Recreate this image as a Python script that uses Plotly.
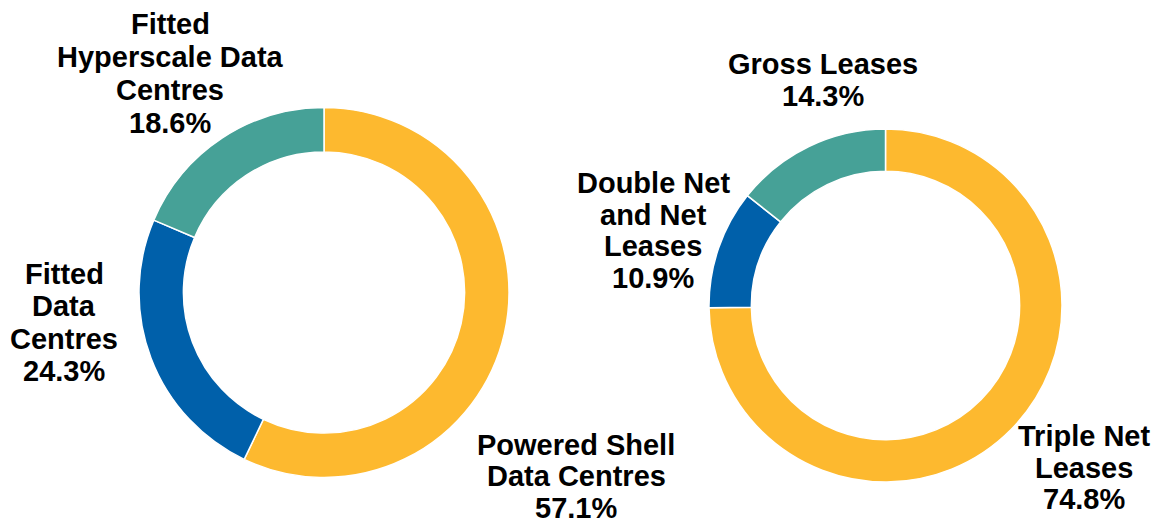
import plotly.graph_objects as go

# Left chart: by data centre type
left_labels = ["Powered Shell Data Centres", "Fitted Data Centres", "Fitted Hyperscale Data Centres"]
left_values = [57.1, 24.3, 18.6]
left_text = [["Powered Shell", "Data Centres", "57.1%"],
             ["Fitted", "Data", "Centres", "24.3%"],
             ["Fitted", "Hyperscale Data", "Centres", "18.6%"]]

# Right chart: by lease type
right_labels = ["Triple Net Leases", "Double Net and Net Leases", "Gross Leases"]
right_values = [74.8, 10.9, 14.3]
right_text = [["Triple Net", "Leases", "74.8%"],
              ["Double Net", "and Net", "Leases", "10.9%"],
              ["Gross Leases", "14.3%"]]

colors = ["#FDB92F", "#0060AA", "#46A197"]

W, H = 1158, 523

def dom(cx, cy, r):
    return dict(x=[(cx - r) / W, (cx + r) / W], y=[(H - cy - r) / H, (H - cy + r) / H])

fig = go.Figure()
fig.add_trace(go.Pie(labels=left_labels, values=left_values, hole=0.76, sort=False,
                     direction="clockwise", rotation=0, textinfo="none", hoverinfo="label+percent",
                     marker=dict(colors=colors, line=dict(color="white", width=1.5)),
                     domain=dom(324, 292.5, 185), showlegend=False))
fig.add_trace(go.Pie(labels=right_labels, values=right_values, hole=0.76, sort=False,
                     direction="clockwise", rotation=0, textinfo="none", hoverinfo="label+percent",
                     marker=dict(colors=colors, line=dict(color="white", width=1.5)),
                     domain=dom(885.5, 305.5, 176.5), showlegend=False))

# label block positions: (centre x, first-line y, line spacing) in pixels
left_pos = [(576, 444.5, 31.5), (64, 274, 32.3), (170, 23.5, 33.3)]
right_pos = [(1084, 436, 31.5), (653, 183, 31.7), (823, 64, 32)]

for lines, (x, y0, dy) in list(zip(left_text, left_pos)) + list(zip(right_text, right_pos)):
    for i, line in enumerate(lines):
        fig.add_annotation(text="<b>" + line + "</b>", x=x / W, y=(H - (y0 + i * dy)) / H,
                           xref="paper", yref="paper", xanchor="center", yanchor="middle",
                           showarrow=False, align="center",
                           font=dict(family="Liberation Sans, Arial, sans-serif", size=29,
                                     color="#000000"))

fig.update_layout(width=W, height=H, margin=dict(l=0, r=0, t=0, b=0),
                  paper_bgcolor="white", plot_bgcolor="white")
fig.write_html("out.html", config={"displayModeBar": False},
               post_script="document.body.style.margin='0';")
